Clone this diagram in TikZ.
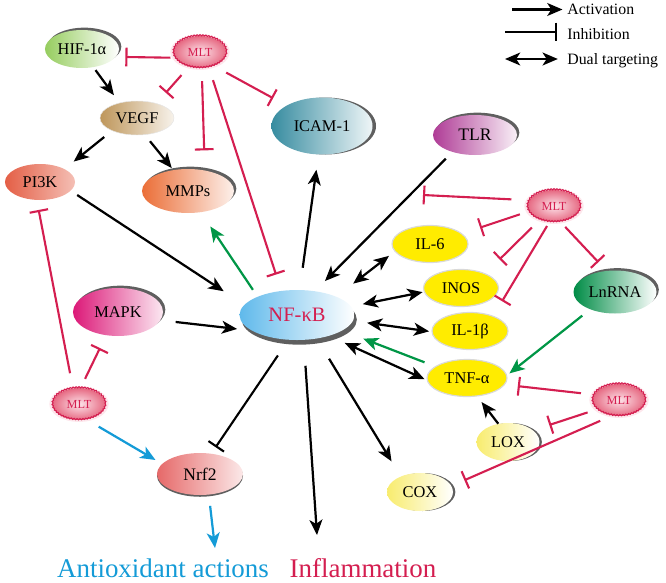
\documentclass[tikz,border=0pt]{standalone}
\usepackage{fontspec}
\setmainfont{Liberation Serif}
\usepackage{tikz}
\usetikzlibrary{arrows.meta}
\usetikzlibrary{shapes,shadows}
\usetikzlibrary{decorations.pathmorphing}

\definecolor{mltred}{RGB}{212,30,80}
\definecolor{mltin}{RGB}{253,228,234}
\definecolor{mltout}{RGB}{230,105,130}
\definecolor{actgreen}{RGB}{0,150,70}
\definecolor{antiblue}{RGB}{20,155,215}
\definecolor{shadowc}{RGB}{95,95,95}
\definecolor{hifc}{RGB}{150,205,95}
\definecolor{vegfc}{RGB}{190,150,90}
\definecolor{pikc}{RGB}{228,95,70}
\definecolor{mmpc}{RGB}{235,110,55}
\definecolor{icamc}{RGB}{55,140,160}
\definecolor{tlrc}{RGB}{175,60,150}
\definecolor{mapkc}{RGB}{220,25,120}
\definecolor{nfc}{RGB}{95,185,235}
\definecolor{lnc}{RGB}{0,140,70}
\definecolor{loxc}{RGB}{248,236,110}
\definecolor{nrfc}{RGB}{230,105,105}
\definecolor{cytoc}{RGB}{255,236,0}

\begin{document}
\begin{tikzpicture}[x=0.03cm,y=-0.03cm,>={Stealth[length=13pt,width=11pt,inset=3.5pt]},
	mol/.style={ellipse,inner sep=0pt,font=\fontsize{14}{16}\selectfont},
	sz/.style 2 args={minimum width=#1cm,minimum height=#2cm},
	shd/.style 2 args={drop shadow={shadow xshift=#1pt,shadow yshift=#2pt,fill=shadowc,opacity=1}},
	cyto/.style={mol,fill=cytoc,draw=black!15,line width=1pt},
	mlt/.style={ellipse,inner sep=0pt,minimum width=1.59cm,minimum height=0.96cm,
		drop shadow={shadow scale=1.12,shadow xshift=0pt,shadow yshift=0pt,fill=mltin,opacity=0.9},
		inner color=mltin,outer color=mltout,text=mltred,font=\fontsize{10.5}{12}\selectfont,
		postaction={draw=mltred,line width=0.9pt,decorate,decoration={snake,segment length=2.5pt,amplitude=0.5pt}}},
	gap/.style 2 args={shorten <=#1pt,shorten >=#2pt},
	act/.style={->,line width=1.9pt},
	dual/.style={<->,line width=1.9pt},
	inh/.style={-{Bar[width=16pt]},line width=1.8pt}]

\useasboundingbox (0,0) rectangle (666,583);

  \node[mol,sz={2.22}{1.14},shd={2}{2},left color=hifc,right color=white]	(hif)	at (82,49)	{HIF-1α};
  \node[mlt]	(mlt1)	at (200,52)	{MLT};
  \node[mol,sz={2.22}{1.02},left color=vegfc,right color=vegfc!12!white,draw=black!10]	(vegf)	at (137,118)	{VEGF};
  \node[mol,sz={2.1}{1.08},left color=pikc,right color=pikc!40!white]	(pik)	at (40,182)	{PI3K};
  \node[mol,sz={2.76}{1.32},shd={2}{2},left color=mmpc,right color=mmpc!10!white]	(mmp)	at (188,191)	{MMPs};
  \node[mol,sz={3.03}{1.71},shd={3}{0},left color=icamc,right color=icamc!8!white]	(icam)	at (322,126)	{ICAM-1};
  \node[mol,sz={2.52}{1.2},shd={2}{2},left color=tlrc,right color=tlrc!8!white,font=\fontsize{15}{17}\selectfont]	(tlr)	at (475,135)	{TLR};
  \node[mlt]	(mlt2)	at (554,206)	{MLT};
  \node[cyto,sz={2.28}{1.11}]	(il6)	at (430,244)	{IL-6};
  \node[cyto,sz={2.25}{1.11}]	(inos)	at (461,288)	{INOS};
  \node[cyto,sz={2.28}{1.11}]	(il1b)	at (470,331)	{IL-1β};
  \node[cyto,sz={2.4}{1.11}]	(tnf)	at (467,378)	{TNF-α};
  \node[mol,sz={2.49}{1.29},shd={2}{2},left color=lnc,right color=white]	(lnrna)	at (615,292)	{LnRNA};
  \node[mol,sz={3.45}{1.5},shd={2}{-4},left color=nfc,right color=white,text=mltred,font=\fontsize{17.5}{20}\selectfont]	(nfkb)	at (297,315)	{NF-κB};
  \node[mol,sz={2.7}{1.44},shd={2}{2},left color=mapkc,right color=mapkc!10!white]	(mapk)	at (118,312)	{MAPK};
  \node[mlt]	(mlt4)	at (79,404)	{MLT};
  \node[mol,sz={2.58}{1.26},shd={0}{-1.5},left color=nrfc,right color=nrfc!15!white,font=\fontsize{15}{17}\selectfont]	(nrf2)	at (200,474)	{Nrf2};
  \node[mlt]	(mlt3)	at (619,400)	{MLT};
  \node[mol,sz={1.89}{1.14},shd={2}{0},left color=loxc,right color=white]	(lox)	at (508,442)	{LOX};
  \node[mol,sz={1.98}{1.14},shd={2}{0},left color=loxc,right color=white]	(cox)	at (420,492)	{COX};

  \node[text=antiblue,font=\fontsize{23}{26}\selectfont]	(anti)	at (163,568)	{Antioxidant actions};
  \node[text=mltred,font=\fontsize{23}{26}\selectfont]	(infl)	at (363,568)	{Inflammation};

  \coordinate (inflin) at (317,535);
  \coordinate (antiin) at (215,548);
  \coordinate (tlrbar) at (423,195);

  % legend
  \coordinate (lacts) at (512,9.5);
  \coordinate (linhs) at (505,32);
  \coordinate (lduals) at (505,59);
  \node[anchor=base west,inner sep=1pt,font=\fontsize{13.5}{15}\selectfont]	(lact)	at (566,14)	{Activation};
  \node[anchor=base west,inner sep=1pt,font=\fontsize{13.5}{15}\selectfont]	(linh)	at (566,39)	{Inhibition};
  \node[anchor=base west,inner sep=1pt,font=\fontsize{13.5}{15}\selectfont]	(ldual)	at (566,64)	{Dual targeting};

\path[act]
     (lacts)	edge [gap={0}{3}]	(lacts -| lact.west)
     (hif.302)	edge [gap={3}{8}]	(vegf.139)
     (vegf.207)	edge [gap={8.5}{10}]	(pik.28)
     (vegf.295)	edge [gap={7}{2}]	(mmp.125)
     (pik.344)	edge [gap={6.5}{21}]	(nfkb.169)
     (mapk.349)	edge [gap={13}{12.5}]	(nfkb.199)
     (nfkb.84)	edge [gap={19}{13}]	(icam.263)
     (tlr.217)	edge [gap={8}{12}]	(nfkb.53)
     (nfkb.310)	edge [gap={20}{15}]	(cox.141)
     (nfkb.285)	edge [gap={22}{0}]	(inflin)
     (lox.118)	edge [gap={0}{6}]	(tnf.299)
  ;
\path[dual]
     (lduals)	edge [gap={0}{7}]	(lduals -| ldual.west)
     (nfkb.25)	edge [gap={18}{6}]	(il6.192)
     (nfkb.9)	edge [gap={10}{1}]	(inos.186)
     (nfkb.354)	edge [gap={12}{2}]	(il1b.181)
     (nfkb.327)	edge [gap={14.5}{2}]	(tnf.183)
  ;
\path[act,actgreen]
     (nfkb.155)	edge [gap={7}{14.5}]	(mmp.301)
     (tnf.160)	edge [gap={9.5}{19}]	(nfkb.341)
     (lnrna.215)	edge [gap={8.5}{2.5}]	(tnf.4)
  ;
\path[act,antiblue]
     (mlt4.296)	edge [gap={12}{6.5}]	(nrf2.165)
     (nrf2.293)	edge [gap={9.5}{0}]	(antiin)
  ;
\path[inh]
     (linhs)	edge [gap={0}{8}]	(linhs -| linh.west)
     (nfkb.251)	edge [gap={16}{6.5}]	(nrf2.61)
  ;
\path[inh,mltred]
     (mlt1.193)	edge [gap={4}{8}]	(hif.347)
     (mlt1.233)	edge [gap={9.5}{12}]	(vegf.37)
     (mlt1.276)	edge [gap={11}{17}]	(mmp.51)
     (mlt1.300)	edge [gap={11.5}{14.5}]	(nfkb.123)
     (mlt1.315)	edge [gap={12}{13}]	(icam.150)
     (mlt2.167)	edge [gap={15}{0}]	(tlrbar)
     (mlt2.192)	edge [gap={8}{16}]	(il6.18)
     (mlt2.224)	edge [gap={9.5}{17}]	(inos.31)
     (mlt2.254)	edge [gap={4}{14.5}]	(il1b.33)
     (mlt2.292)	edge [gap={6}{10}]	(lnrna.112)
     (mlt3.168)	edge [gap={11}{11}]	(tnf.350)
     (mlt3.203)	edge [gap={8.5}{14.5}]	(lox.25)
     (mlt3.246)	edge [gap={11}{12}]	(cox.11)
     (mlt4.84)	edge [gap={8.5}{12}]	(mapk.243)
     (mlt4.111)	edge [gap={13}{8.5}]	(pik.260)
  ;
\end{tikzpicture}
\end{document}
